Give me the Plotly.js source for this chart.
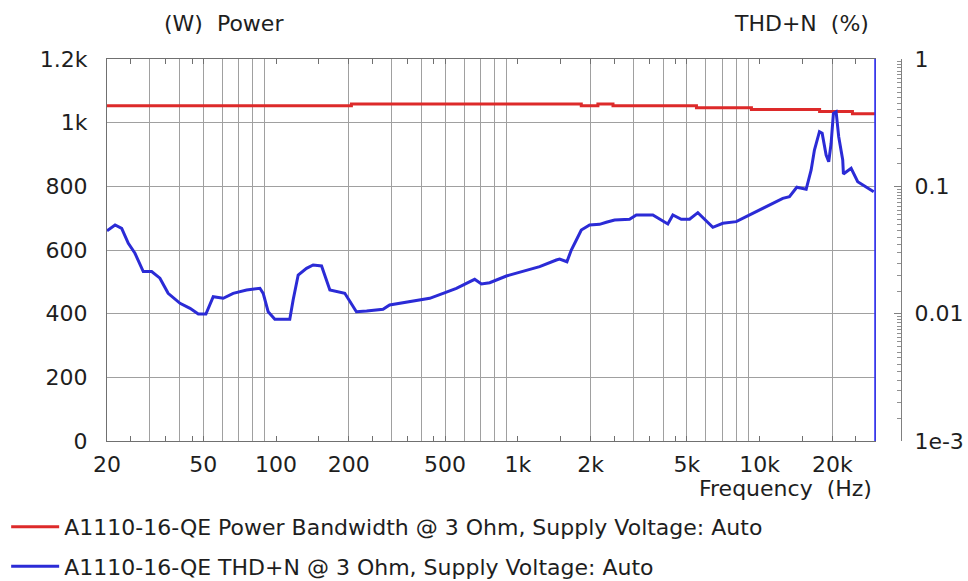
<!DOCTYPE html>
<html>
<head>
<meta charset="utf-8">
<script src="https://cdn.plot.ly/plotly-3.0.1.min.js"></script>
<style>html,body{margin:0;padding:0;background:#fff;}#chart{width:968px;height:581px;background:#fff;}</style>
</head>
<body>
<div id="chart"></div>
<script>
// ---- Data ----
const powerFreq = [20, 205, 1830, 2144, 2475, 5480, 9250, 17700, 24200, 30000];
const powerW    = [1053, 1059, 1053, 1059, 1053, 1047, 1041, 1035, 1028, 1028];

const thdFreq = [20, 21.6, 23.0, 24.5, 26.1, 28.25, 30.6, 33.1, 35.8, 40.1, 44.1, 47.7, 51.3, 55.0, 60.5, 66.5, 75.6, 85.8, 88.5, 92.8, 98.9, 114, 117.7, 123.5, 133.7, 142.4, 154.3, 161.8, 167, 192.5, 202, 215, 237, 277, 295, 335, 381, 432, 491, 557, 613, 663, 707, 765, 897, 1050, 1231, 1443, 1489, 1596, 1664, 1746, 1830, 1981, 2178, 2322, 2513, 2898, 3090, 3618, 3920, 4172, 4377, 4742, 5132, 5552, 6404, 7044, 8002, 9080, 9985, 11330, 12466, 13284, 14244, 15577, 16333, 16852, 17675, 18136, 18838, 19308, 19752, 20190, 20716, 21235, 22062, 22209, 23899, 25444, 27568, 29630];
const thdPct  = [0.0448, 0.0497, 0.0468, 0.0357, 0.0298, 0.0214, 0.0214, 0.0190, 0.01445, 0.01206, 0.01102, 0.00994, 0.00994, 0.01359, 0.0132, 0.01445, 0.01535, 0.01582, 0.01445, 0.01036, 0.00903, 0.00903, 0.0128, 0.0201, 0.0227, 0.0241, 0.0237, 0.0184, 0.01535, 0.01445, 0.01242, 0.01036, 0.0105, 0.01082, 0.0117, 0.0122, 0.0128, 0.0132, 0.01445, 0.01582, 0.01732, 0.01862, 0.0171, 0.0175, 0.01976, 0.02136, 0.02339, 0.02639, 0.02687, 0.02558, 0.03162, 0.0379, 0.0454, 0.0497, 0.0503, 0.0522, 0.0544, 0.0551, 0.0596, 0.0596, 0.0544, 0.0506, 0.0596, 0.0551, 0.0551, 0.0621, 0.0477, 0.0513, 0.0528, 0.0596, 0.0652, 0.0727, 0.0805, 0.0829, 0.0983, 0.0948, 0.1344, 0.1929, 0.2686, 0.2610, 0.1762, 0.1561, 0.2178, 0.3748, 0.3858, 0.2454, 0.1610, 0.1250, 0.1386, 0.1088, 0.0994, 0.0908];

const xLabelVals = [20,50,100,200,500,1000,2000,5000,10000,20000];
const xLabelText = ['20','50','100','200','500','1k','2k','5k','10k','20k'];
const xGridVals  = [30,40,50,60,70,80,90,200,300,400,500,600,700,800,900,2000,3000,4000,5000,6000,7000,8000,9000,20000];
const decadeLines = [100,1000,10000];
const xSmallTicks = [25,35,45,150,250,350,450,1500,2500,3500,4500,15000,25000];
const yLeftVals = [0,200,400,600,800,1000,1200];
const yLeftText = ['0','200','400','600','800','1k','1.2k'];
const yRightVals = [0.001,0.01,0.1,1];
const yRightText = ['1e-3','0.01','0.1','1'];

const seriesNames = ['A1110-16-QE Power Bandwidth @ 3 Ohm, Supply Voltage: Auto',
                     'A1110-16-QE THD+N @ 3 Ohm, Supply Voltage: Auto'];

// ---- Styling ----
const FONT = 'DejaVu Sans, Verdana, sans-serif';
const FS = 22;
const TXT = '#1e1e1e';
const GRID = '#a0a0a0';
const FRAME = '#707070';
const xr = [Math.log10(20), Math.log10(30000)];
const DOM = [0, 768/794];

const rightMinor = [];
[0.001,0.01,0.1].forEach(d => { for (let k = 1.5; k < 10; k += 0.5) rightMinor.push(+(d*k).toPrecision(3)); });

// major x ticks: labelled values plus the small unlabelled marks
const xTickVals = xLabelVals.concat(xSmallTicks).sort((a, b) => a - b);
const xTickText = xTickVals.map(v => { const i = xLabelVals.indexOf(v); return i >= 0 ? xLabelText[i] : ''; });

const traces = [
  {x: powerFreq, y: powerW, name: seriesNames[0], type: 'scatter', mode: 'lines',
   line: {color: '#dd2a2a', width: 3, shape: 'hv'}, xaxis: 'x', yaxis: 'y', legendgroup: 'a'},
  {x: thdFreq, y: thdPct, name: seriesNames[1], type: 'scatter', mode: 'lines',
   line: {color: '#2b2bd6', width: 3}, xaxis: 'x', yaxis: 'y2', legendgroup: 'b'}
];

const shapes = decadeLines.map(v => ({type: 'line', layer: 'below', xref: 'x', yref: 'y domain',
  x0: Math.log10(v), x1: Math.log10(v), y0: 0, y1: 1, line: {color: '#4a4a4a', width: 1.2}}));
shapes.push({type: 'line', layer: 'above', xref: 'x domain', yref: 'y domain', x0: 1, x1: 1, y0: 0, y1: 1,
  line: {color: '#2b2bff', width: 1.5}});

const layout = {
  width: 968, height: 581,
  margin: {l: 107, r: 67, t: 59, b: 140, autoexpand: false},
  paper_bgcolor: 'rgba(0,0,0,0)', plot_bgcolor: 'rgba(0,0,0,0)',
  font: {family: FONT, size: FS, color: TXT},
  showlegend: true,
  legend: {x: -0.127, xanchor: 'left', y: -0.17, yanchor: 'top', orientation: 'v',
           font: {family: FONT, size: FS, color: TXT}, tracegroupgap: 8, itemwidth: 48,
           bgcolor: 'rgba(0,0,0,0)'},
  xaxis: {type: 'log', range: xr, domain: DOM, tickmode: 'array', tickvals: xTickVals,
          ticktext: xTickText, ticks: 'inside', ticklen: 5, tickcolor: FRAME, showgrid: false,
          showline: true, linecolor: FRAME, linewidth: 1, mirror: 'ticks', zeroline: false,
          tickfont: {family: FONT, size: FS, color: TXT}, ticklabelstandoff: 4,
          minor: {tickmode: 'array', tickvals: xGridVals, ticks: '', showgrid: true, gridcolor: GRID, gridwidth: 1}},
  yaxis: {range: [0, 1200], tickmode: 'array', tickvals: yLeftVals, ticktext: yLeftText, ticks: '',
          showgrid: true, gridcolor: GRID, showline: true, linecolor: FRAME, mirror: true, zeroline: false,
          tickfont: {family: FONT, size: FS, color: TXT}, ticklabelstandoff: 14},
  yaxis2: {type: 'log', range: [-3, 0], overlaying: 'y', anchor: 'free', position: 1, side: 'right',
           tickmode: 'array', tickvals: yRightVals, ticktext: yRightText, ticks: 'inside', ticklen: 7,
           tickcolor: '#808080', showline: true, linecolor: '#808080', showgrid: false, zeroline: false,
           tickfont: {family: FONT, size: FS, color: TXT}, ticklabelstandoff: 8,
           minor: {tickmode: 'array', tickvals: rightMinor, ticks: 'inside', ticklen: 4, tickcolor: '#909090', showgrid: false}},
  shapes: shapes,
  annotations: [
    {text: '(W)\u00a0\u00a0Power', xref: 'paper', yref: 'paper', x: (162-107)/794, y: (441-23)/382,
     xanchor: 'left', yanchor: 'middle', showarrow: false, font: {family: FONT, size: FS, color: TXT}},
    {text: 'THD+N\u00a0\u00a0(%)', xref: 'paper', yref: 'paper', x: (871-107)/794, y: (441-23)/382,
     xanchor: 'right', yanchor: 'middle', showarrow: false, font: {family: FONT, size: FS, color: TXT}},
    {text: 'Frequency\u00a0\u00a0(Hz)', xref: 'paper', yref: 'paper', x: (874-107)/794, y: (441-489)/382,
     xanchor: 'right', yanchor: 'middle', showarrow: false, font: {family: FONT, size: FS, color: TXT}}
  ]
};

Plotly.newPlot('chart', traces, layout, {displayModeBar: false, staticPlot: true});
</script>
</body>
</html>
